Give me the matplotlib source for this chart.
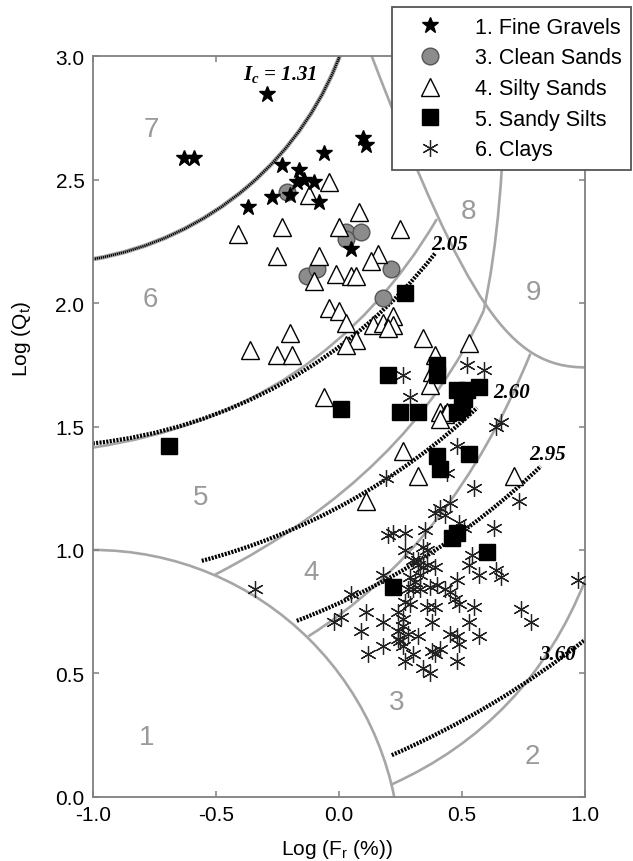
import numpy as np
import matplotlib
matplotlib.use("Agg")
import matplotlib.pyplot as plt
from matplotlib.patches import Arc, PathPatch
from matplotlib.path import Path

plt.rcParams['font.family'] = ['Liberation Sans', 'DejaVu Sans']

# 1. Fine Gravels
gravel_x = [-0.29, -0.63, -0.59, 0.10, 0.11, -0.06, -0.23, -0.16, -0.17, -0.14, -0.10, -0.27, -0.20, -0.08, -0.37, 0.05]
gravel_y = [2.85, 2.59, 2.59, 2.67, 2.64, 2.61, 2.56, 2.54, 2.49, 2.50, 2.49, 2.43, 2.44, 2.41, 2.39, 2.22]

# 3. Clean Sands
sand_x = [-0.21, 0.03, 0.03, 0.09, -0.13, -0.09, 0.21, 0.18]
sand_y = [2.45, 2.29, 2.26, 2.29, 2.11, 2.14, 2.14, 2.02]

# 4. Silty Sands
silty_x = [-0.04, -0.12, 0.08, 0.00, -0.23, -0.41, -0.25, -0.08, 0.16, 0.13, -0.01, 0.05, 0.07, -0.10, 0.25,
           -0.04, 0.00, 0.03, 0.14, 0.18, 0.22, 0.22, 0.20, -0.20, 0.07, 0.03, -0.36, -0.25, -0.19, 0.34,
           0.39, 0.53, 0.38, 0.37, -0.06, 0.41, 0.43, 0.44, 0.41, 0.26, 0.32, 0.71, 0.11]
silty_y = [2.49, 2.44, 2.37, 2.31, 2.31, 2.28, 2.19, 2.19, 2.20, 2.17, 2.12, 2.11, 2.11, 2.09, 2.30,
           1.98, 1.97, 1.92, 1.91, 1.92, 1.95, 1.91, 1.90, 1.88, 1.85, 1.83, 1.81, 1.79, 1.79, 1.86,
           1.79, 1.84, 1.72, 1.67, 1.62, 1.56, 1.55, 1.56, 1.53, 1.40, 1.30, 1.30, 1.20]

# 5. Sandy Silts
silt_x = [0.27, 0.20, 0.01, 0.25, 0.32, 0.40, 0.40, 0.48, 0.52, 0.57, 0.51, 0.48, 0.50, 0.40, 0.41, 0.53,
          0.46, 0.48, 0.60, 0.22, -0.69]
silt_y = [2.04, 1.71, 1.57, 1.56, 1.56, 1.75, 1.71, 1.65, 1.65, 1.66, 1.61, 1.56, 1.58, 1.38, 1.33, 1.39,
          1.05, 1.07, 0.99, 0.85, 1.42]

# 6. Clays
clay_x = [0.55, 0.73, 0.41, 0.45, 0.39, 0.43, 0.49, 0.51, 0.63, 0.20,
          0.22, 0.27, 0.35, 0.27, 0.34, 0.36, 0.54, 0.53, 0.30, 0.32,
          0.32, 0.34, 0.36, 0.39, 0.64, 0.66, 0.57, 0.48, 0.18, 0.29,
          0.31, 0.33, 0.28, 0.30, 0.33, 0.37, 0.40, 0.43, 0.45, 0.47,
          0.49, 0.55, 0.27, 0.29, 0.36, 0.39, 0.11, 0.24, 0.53, 0.18,
          0.26, 0.26, 0.38, 0.09, 0.24, 0.28, 0.24, 0.32, 0.45, 0.48,
          0.57, 0.49, 0.18, 0.25, 0.26, 0.12, 0.38, 0.39, 0.41, 0.48,
          0.27, 0.30, 0.34, 0.37, 0.74, 0.78, 0.97, 0.26, 0.29, 0.52,
          0.59, 0.64, 0.66, 0.48, 0.44, 0.19, -0.34, -0.02, 0.01, 0.05]
clay_y = [1.25, 1.20, 1.17, 1.19, 1.15, 1.14, 1.11, 1.09, 1.09, 1.06,
          1.07, 1.07, 1.08, 1.00, 1.01, 1.00, 0.98, 0.94, 0.96, 0.96,
          0.94, 0.93, 0.94, 0.93, 0.92, 0.89, 0.90, 0.88, 0.90, 0.89,
          0.87, 0.90, 0.84, 0.84, 0.84, 0.85, 0.86, 0.84, 0.83, 0.80,
          0.78, 0.77, 0.79, 0.78, 0.77, 0.77, 0.75, 0.75, 0.71, 0.71,
          0.72, 0.69, 0.71, 0.67, 0.67, 0.66, 0.64, 0.65, 0.66, 0.65,
          0.65, 0.62, 0.61, 0.63, 0.61, 0.58, 0.59, 0.58, 0.60, 0.55,
          0.55, 0.58, 0.52, 0.50, 0.76, 0.71, 0.88, 1.71, 1.62, 1.75,
          1.73, 1.50, 1.52, 1.42, 1.31, 1.29, 0.84, 0.71, 0.73, 0.82]

# Ic contours: circles about (-1.22, 3.47), drawn between two Fr values
ic_centre = (-1.22, 3.47)
ic_values = [1.31, 2.05, 2.60, 2.95, 3.60]
ic_x_start = [-1.0, -1.0, -0.557, -0.171, 0.215]
ic_x_end = [0.02, 0.39, 0.561, 0.82, 1.0]
ic_labels = [r"$\mathregular{I_c}$ = 1.31", "2.05", "2.60", "2.95", "3.60"]
ic_label_x = [-0.24, 0.45, 0.70, 0.85, 0.89]
ic_label_y = [2.93, 2.24, 1.64, 1.39, 0.58]

# zone boundaries (grey), control points of bezier curves
zone1_centre = (-1.0, -0.25)
zone1_radius = 1.25
b_23 = [(0.215, 0.05), (0.77, 0.30), (1.0, 0.875)]
b_34 = [(-0.124, 0.65), (0.46, 1.016), (0.778, 1.795)]
b_45 = [(-0.503, 0.90), (0.285, 1.303), (0.588, 1.969)]
b_56 = [(-1.0, 1.415), (-0.064, 1.555), (0.398, 2.341)]
b_89 = [(0.588, 1.969), (0.672, 2.35), (0.678, 3.0)]
b_8 = [(0.134, 3.0), (0.522, 1.992), (0.695, 1.74), (1.0, 1.74)]

zone_names = ['1', '2', '3', '4', '5', '6', '7', '8', '9']
zone_x = [-0.78, 0.785, 0.236, -0.114, -0.56, -0.766, -0.76, 0.527, 0.791]
zone_y = [0.241, 0.166, 0.382, 0.912, 1.213, 2.016, 2.705, 2.374, 2.044]

grey = '#a6a6a6'
frame = '#808080'


def ic_angles(ic, xs, xe):
    # angles (deg) on the Ic circle for the two end points, lower right quarter
    a_start = -np.degrees(np.arccos((xs - ic_centre[0]) / ic))
    a_end = -np.degrees(np.arccos((xe - ic_centre[0]) / ic))
    return a_start, a_end


fig = plt.figure(figsize=(6.33, 8.62), dpi=100)
ax = fig.add_axes([0.1465, 0.0746, 0.7777, 0.8587])

# grey zone boundaries
ax.add_patch(Arc(zone1_centre, 2 * zone1_radius, 2 * zone1_radius, theta1=0, theta2=90,
                 color=grey, lw=1.9, zorder=1))
for pts in [b_23, b_34, b_45, b_56, b_89, b_8]:
    if len(pts) == 3:
        codes = [Path.MOVETO, Path.CURVE3, Path.CURVE3]
    else:
        codes = [Path.MOVETO, Path.CURVE4, Path.CURVE4, Path.CURVE4]
    ax.add_patch(PathPatch(Path(pts, codes), fill=False, edgecolor=grey, lw=1.9, zorder=1))

# Ic = 1.31 also marks the 6/7 boundary
t1, t2 = ic_angles(ic_values[0], ic_x_start[0], ic_x_end[0])
ax.add_patch(Arc(ic_centre, 2 * ic_values[0], 2 * ic_values[0], theta1=t1, theta2=t2,
                 color=grey, lw=3.2, zorder=1))

# dotted Ic lines
for ic, xs, xe in zip(ic_values, ic_x_start, ic_x_end):
    t1, t2 = ic_angles(ic, xs, xe)
    lw = 1.8 if ic == 1.31 else 3.0
    ax.add_patch(Arc(ic_centre, 2 * ic, 2 * ic, theta1=t1, theta2=t2, color='black',
                     lw=lw, linestyle=(0, (0.5, 0.32)), zorder=2))

for txt, x, y in zip(ic_labels, ic_label_x, ic_label_y):
    ax.text(x, y, txt, ha='center', va='center', fontsize=15, family='Liberation Serif',
            weight='bold', style='italic', zorder=5)

for txt, x, y in zip(zone_names, zone_x, zone_y):
    ax.text(x, y, txt, ha='center', va='center', fontsize=20, color='#9a9a9a', zorder=2)

# data points
h_sand, = ax.plot(sand_x, sand_y, 'o', ms=12, mfc='#8c8c8c', mec='#555555', mew=1, zorder=3,
                  label='3. Clean Sands')
h_silty, = ax.plot(silty_x, silty_y, '^', ms=13, mfc='white', mec='black', mew=1, zorder=4,
                   label='4. Silty Sands')
h_clay, = ax.plot(clay_x, clay_y, ls='none', marker=(6, 2, 0), ms=12, mec='#222222', mew=0.9,
                  zorder=5, label='6. Clays')
h_silt, = ax.plot(silt_x, silt_y, 's', ms=11, mfc='black', mec='black', zorder=6,
                  label='5. Sandy Silts')
h_gravel, = ax.plot(gravel_x, gravel_y, '*', ms=12, mfc='black', mec='black', zorder=7,
                    label='1. Fine Gravels')

ax.set_xlim(-1.0, 1.0)
ax.set_ylim(0.0, 3.0)
ax.set_xticks(np.arange(-1.0, 1.01, 0.5))
ax.set_yticks(np.arange(0.0, 3.01, 0.5))
ax.xaxis.set_major_formatter(plt.FormatStrFormatter('%.1f'))
ax.yaxis.set_major_formatter(plt.FormatStrFormatter('%.1f'))
ax.tick_params(direction='in', top=True, right=True, length=4.5, width=1.1, color=frame,
               labelsize=15, pad=6)
for s in ax.spines.values():
    s.set_color(frame)
    s.set_linewidth(1.3)

ax.set_xlabel(r"Log (F$_\mathregular{r}$ (%))", fontsize=15)
ax.set_ylabel(r"Log (Q$_\mathregular{t}$)", fontsize=15)
ax.xaxis.set_label_coords(0.497, -0.055)
ax.yaxis.set_label_coords(-0.121, 0.62)

leg = ax.legend(handles=[h_gravel, h_sand, h_silty, h_silt, h_clay], loc='upper right',
                bbox_to_anchor=(631 / 633, 1 - 8 / 862), bbox_transform=fig.transFigure,
                fontsize=15.5, frameon=True, fancybox=False, framealpha=1, borderpad=0.45,
                handlelength=2.7, handletextpad=0.7, labelspacing=0.45, borderaxespad=0,
                numpoints=1)
leg.get_frame().set_edgecolor('#555555')
leg.get_frame().set_linewidth(1.3)
leg.set_zorder(10)

fig.savefig('out.png', dpi=100)
